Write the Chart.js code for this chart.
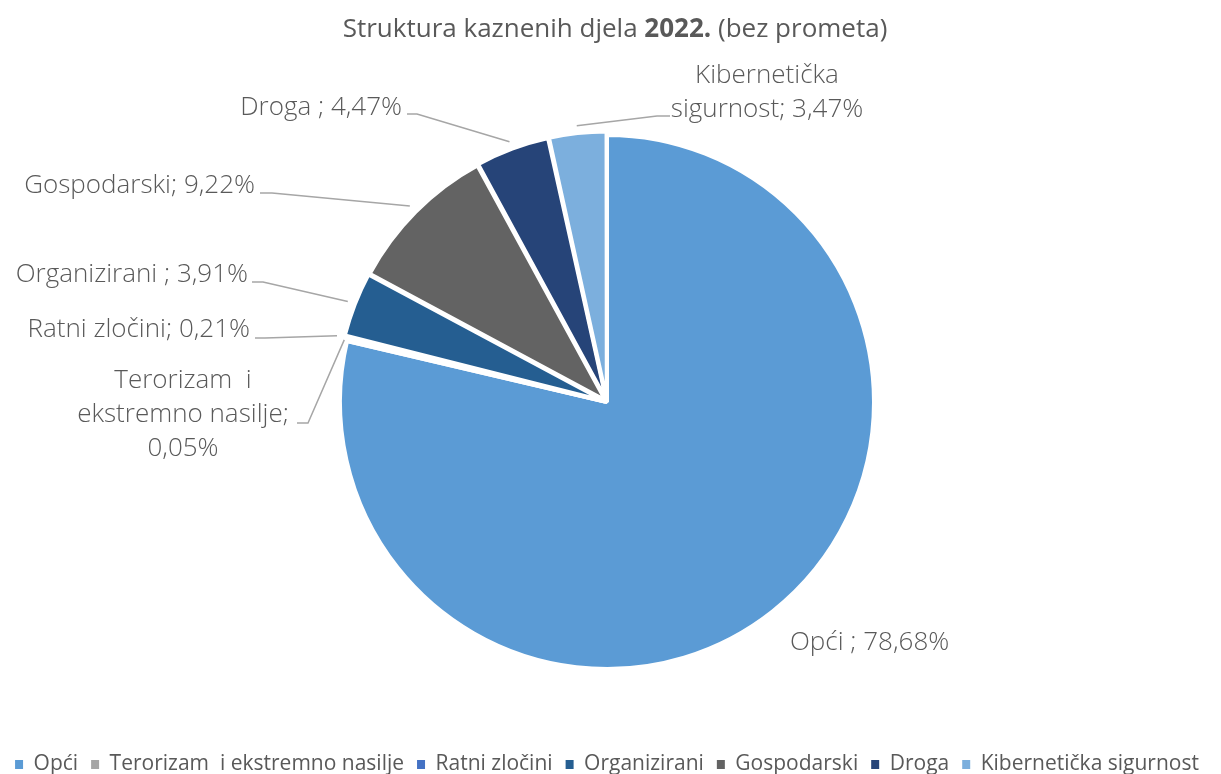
<!DOCTYPE html>
<html>
<head>
<meta charset="utf-8">
<script src="https://cdn.jsdelivr.net/npm/chart.js@4.4.1/dist/chart.umd.min.js"></script>
<style>
  html, body { margin: 0; padding: 0; background: #fff; }
  #wrap { width: 1221px; height: 774px; position: relative; }
</style>
</head>
<body>
<div id="wrap"><canvas id="pieChart"></canvas></div>
<script>
// Podaci
const kategorije = ['Opći', 'Terorizam  i ekstremno nasilje', 'Ratni zločini', 'Organizirani', 'Gospodarski', 'Droga', 'Kibernetička sigurnost'];
const udjeli = [78.68, 0.05, 0.21, 3.91, 9.22, 4.47, 3.47];
// nazivi u oznakama (s prijelomima redaka kao na slici)
const naziviOznaka = ['Opći', 'Terorizam  i\nekstremno nasilje', 'Ratni zločini', 'Organizirani', 'Gospodarski', 'Droga', 'Kibernetička\nsigurnost'];
const razdjelnici = [' ; ', ';\n', '; ', ' ; ', '; ', ' ; ', '; '];
const boje = ['#5B9BD5', '#A5A5A5', '#4472C4', '#255E91', '#636363', '#264478', '#7CAFDD'];

const TEXT = '#595959';
const FONT = "'Open Sans', 'Noto Sans', sans-serif";

// Položaj oznaka (x, bazna linija, poravnanje) i početak linije vodilice
const polozajOznaka = [
  { x: 790, y: 650, align: 'left' },
  { x: 183, y: 388, align: 'center', lead: [297, 423, 308] },
  { x: 250, y: 337, align: 'right', lead: [255, 338, 265] },
  { x: 248, y: 282, align: 'right', lead: [252, 282, 263] },
  { x: 255, y: 193, align: 'right', lead: [260, 193, 272] },
  { x: 402, y: 115, align: 'right', lead: [407, 114, 417] },
  { x: 767, y: 83, align: 'center', lead: [670, 116, 657] }
];

function formatPostotak(v) {
  return v.toFixed(2).replace('.', ',') + '%';
}

// Naslov s podebljanom godinom
const naslovPlugin = {
  id: 'naslov',
  afterDraw(chart) {
    const ctx = chart.ctx;
    const dijelovi = [
      { t: 'Struktura kaznenih djela ', w: 'normal' },
      { t: '2022.', w: 'bold' },
      { t: ' (bez prometa)', w: 'normal' }
    ];
    ctx.save();
    ctx.fillStyle = TEXT;
    ctx.textBaseline = 'alphabetic';
    ctx.textAlign = 'left';
    let ukupno = 0;
    dijelovi.forEach(d => {
      ctx.font = d.w + ' 26px ' + FONT;
      d.sirina = ctx.measureText(d.t).width;
      ukupno += d.sirina;
    });
    let x = 615 - ukupno / 2;
    dijelovi.forEach(d => {
      ctx.font = d.w + ' 26px ' + FONT;
      ctx.fillText(d.t, x, 37);
      x += d.sirina;
    });
    ctx.restore();
  }
};

// Oznake podataka s linijama vodilicama
const oznakePlugin = {
  id: 'oznake',
  afterDatasetsDraw(chart) {
    const ctx = chart.ctx;
    const meta = chart.getDatasetMeta(0);
    ctx.save();
    meta.data.forEach((arc, i) => {
      const p = polozajOznaka[i];
      const opcije = arc.options;
      const { x, y, startAngle, endAngle, outerRadius } = arc.getProps(['x', 'y', 'startAngle', 'endAngle', 'outerRadius'], true);
      const mid = (startAngle + endAngle) / 2;
      const r = outerRadius + (opcije.offset || 0) + 3;
      if (p.lead) {
        ctx.strokeStyle = '#A6A6A6';
        ctx.lineWidth = 1.5;
        ctx.beginPath();
        ctx.moveTo(p.lead[0], p.lead[1]);
        ctx.lineTo(p.lead[2], p.lead[1]);
        ctx.lineTo(x + Math.cos(mid) * r, y + Math.sin(mid) * r);
        ctx.stroke();
      }
      const tekst = naziviOznaka[i] + razdjelnici[i] + formatPostotak(udjeli[i]);
      ctx.fillStyle = TEXT;
      ctx.font = '300 26px ' + FONT;
      ctx.textAlign = p.align;
      ctx.textBaseline = 'alphabetic';
      tekst.split('\n').forEach((red, k) => {
        ctx.fillText(red, p.x, p.y + k * 34);
      });
    });
    ctx.restore();
  }
};

const zadaneOznake = Chart.controllers.pie.overrides.plugins.legend.labels.generateLabels;

const ctx = document.getElementById('pieChart').getContext('2d');
const grafikon = new Chart(ctx, {
  type: 'pie',
  data: {
    labels: kategorije,
    datasets: [{
      data: udjeli,
      backgroundColor: boje,
      borderColor: '#ffffff',
      borderWidth: 4,
      offset: [0, 0, 8, 8, 8, 8, 8],
      hoverOffset: 0
    }]
  },
  options: {
    responsive: true,
    maintainAspectRatio: false,
    animation: false,
    events: [],
    radius: 267,
    layout: {
      padding: { top: 63, left: 0, right: 7, bottom: -11 }
    },
    plugins: {
      title: { display: false },
      tooltip: { enabled: false },
      legend: {
        position: 'bottom',
        labels: {
          font: { family: FONT, size: 21 },
          color: TEXT,
          boxWidth: 8,
          boxHeight: 9,
          padding: 13,
          generateLabels(chart) {
            // kvadratići bez bijelog obruba
            return zadaneOznake(chart).map(l => Object.assign(l, { lineWidth: 0 }));
          }
        }
      }
    }
  },
  plugins: [naslovPlugin, oznakePlugin]
});
</script>
</body>
</html>
